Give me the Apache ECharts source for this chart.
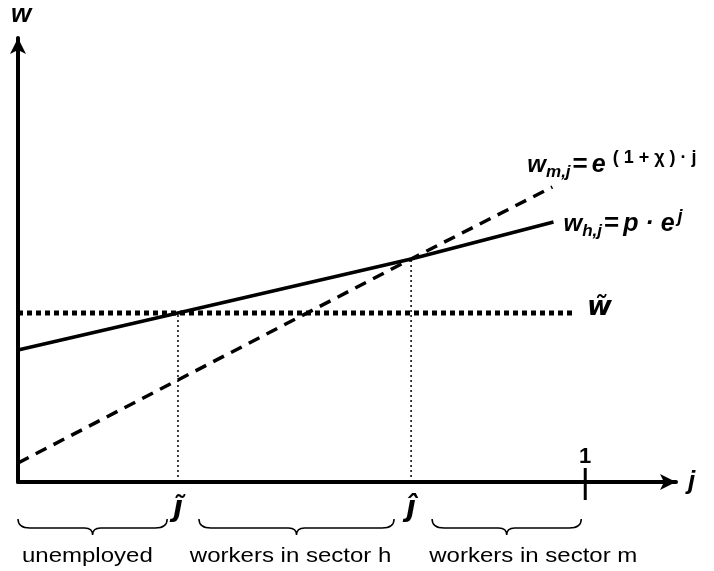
<!DOCTYPE html>
<html>
<head>
<meta charset="utf-8">
<script src="https://cdn.jsdelivr.net/npm/echarts@6/dist/echarts.min.js"></script>
<style>
html, body { margin: 0; padding: 0; background: #fff; }
#chart { width: 714px; height: 571px; }
</style>
</head>
<body>
<div id="chart"></div>
<script>
// j runs 0..1 (plus room for the arrow), w in arbitrary units
const jMax = 1.16;
const wMax = 444;
const jTilde = 0.282;
const jHat = 0.693;
const wTilde = 169;

// w_h,j = p·e^j  (solid)
const sectorH = [[0, 132], [jTilde, 169], [jHat, 223], [0.944, 260]];
// w_m,j = e^((1+χ)·j)  (dashed)
const sectorM = [[0, 19], [jTilde, 102], [jHat, 223], [0.942, 295]];
// reservation wage w~
const reservation = [[0, wTilde], [0.982, wTilde]];
// drop lines to the axis
const dropTilde = [[jTilde, 0], [jTilde, wTilde]];
const dropHat = [[jHat, 0], [jHat, 223]];
// tick mark at j = 1
const oneTick = [[1, -18], [1, 14]];
// braces under the axis and their captions
const braceFrom = [0, 0.319, 0.730];
const braceTo = [0.263, 0.663, 0.993];
const captionAt = [0.007, 0.303, 0.725];
const braceText = ['unemployed', 'workers in sector h', 'workers in sector m'];

const font = 'Liberation Sans, Arial, DejaVu Sans, sans-serif';
const ital = { fontFamily: font, fontStyle: 'italic', fontWeight: 'bold', color: '#000' };

let chart = echarts.init(document.getElementById('chart'));

function axisBase(name) {
    return {
        type: 'value',
        name: name,
        nameLocation: 'end',
        nameTextStyle: Object.assign({}, ital, { fontSize: 26 }),
        axisLine: {
            show: true,
            symbol: ['none', 'arrow'],
            symbolSize: [12, 16],
            lineStyle: { color: '#000', width: 4 }
        },
        axisTick: { show: false },
        splitLine: { show: false },
        axisLabel: { show: false }
    };
}

let xAxis = axisBase('j');
xAxis.min = 0;
xAxis.max = jMax;
xAxis.nameGap = 12;
xAxis.axisLabel = {
    show: true,
    customValues: [jTilde, jHat],
    margin: 13,
    formatter: function (v) {
        return v === jTilde ? '{t|\u0237\u0303}' : '{t|\u0135}';
    },
    rich: { t: Object.assign({}, ital, { fontSize: 28, fontFamily: 'DejaVu Sans' }) }
};

let yAxis = axisBase('w');
yAxis.min = 0;
yAxis.max = wMax;
yAxis.nameGap = 10;
yAxis.nameTextStyle.padding = [0, 0, 0, 6];

const braceData = braceFrom.map((f, i) => [f, braceTo[i], captionAt[i], i]);

const eqRich = {
    w: Object.assign({}, ital, { fontSize: 24, lineHeight: 32 }),
    sub: Object.assign({}, ital, { fontSize: 17, lineHeight: 20, verticalAlign: 'bottom' }),
    eq: Object.assign({}, ital, { fontStyle: 'normal', fontSize: 26, lineHeight: 32, padding: [0, 4, 0, 2] }),
    e: Object.assign({}, ital, { fontSize: 25, lineHeight: 32 }),
    sup: Object.assign({}, ital, { fontStyle: 'normal', fontSize: 18, lineHeight: 24, verticalAlign: 'top', padding: [0, 0, 0, 7] }),
    supj: Object.assign({}, ital, { fontSize: 18, lineHeight: 13, verticalAlign: 'top', padding: [0, 0, 0, 3] })
};

let option = {
    animation: false,
    backgroundColor: '#fff',
    grid: { left: 18, right: 38, top: 38, bottom: 89 },
    xAxis: xAxis,
    yAxis: yAxis,
    series: [
        {
            type: 'line',
            data: dropTilde,
            symbol: 'none',
            lineStyle: { color: '#000', width: 1.5, type: [2, 3] },
            z: 1
        },
        {
            type: 'line',
            data: dropHat,
            symbol: 'none',
            lineStyle: { color: '#000', width: 1.5, type: [2, 3] },
            z: 1
        },
        {
            type: 'line',
            data: reservation,
            symbol: 'none',
            lineStyle: { color: '#000', width: 5, type: [5, 4] },
            endLabel: {
                show: true,
                distance: 0,
                offset: [12, -5],
                formatter: '{w|w\u0303}',
                rich: { w: Object.assign({}, ital, { fontSize: 27, fontFamily: 'DejaVu Sans' }) }
            }
        },
        {
            type: 'line',
            data: sectorM,
            symbol: 'none',
            lineStyle: { color: '#000', width: 3.5, type: [12, 8] },
            endLabel: {
                show: true,
                distance: 0,
                offset: [-25, -22],
                formatter: '{w|w}{sub|m,j}{eq|=}{e|e}{sup|( 1 + χ ) · j}',
                rich: eqRich
            }
        },
        {
            type: 'line',
            data: sectorH,
            symbol: 'none',
            lineStyle: { color: '#000', width: 3.5 },
            endLabel: {
                show: true,
                distance: 0,
                offset: [10, 2],
                formatter: '{w|w}{sub|h,j}{eq|=}{e|p · e}{supj|j}',
                rich: eqRich
            }
        },
        {
            type: 'line',
            data: [oneTick[0], {
                value: oneTick[1],
                label: {
                    show: true,
                    position: 'top',
                    distance: 0,
                    formatter: '1',
                    fontFamily: font,
                    fontWeight: 'bold',
                    fontSize: 22,
                    color: '#000'
                }
            }],
            symbol: 'circle',
            symbolSize: 0,
            showSymbol: true,
            clip: false,
            lineStyle: { color: '#000', width: 3 }
        },
        {
            type: 'custom',
            data: braceData,
            clip: false,
            encode: { x: [0, 1] },
            renderItem: function (params, api) {
                let a = api.coord([api.value(0), 0]);
                let b = api.coord([api.value(1), 0]);
                let c = api.coord([api.value(2), 0]);
                let x0 = a[0], x1 = b[0], xm = (x0 + x1) / 2;
                let y = a[1] + 37;
                let path = 'M' + x0 + ' ' + y +
                    ' Q' + x0 + ' ' + (y + 9) + ' ' + (x0 + 12) + ' ' + (y + 9) +
                    ' L' + (xm - 8) + ' ' + (y + 9) +
                    ' Q' + xm + ' ' + (y + 9) + ' ' + xm + ' ' + (y + 16) +
                    ' Q' + xm + ' ' + (y + 9) + ' ' + (xm + 8) + ' ' + (y + 9) +
                    ' L' + (x1 - 12) + ' ' + (y + 9) +
                    ' Q' + x1 + ' ' + (y + 9) + ' ' + x1 + ' ' + y;
                return {
                    type: 'group',
                    children: [
                        {
                            type: 'path',
                            shape: { pathData: path },
                            style: { fill: 'none', stroke: '#000', lineWidth: 1.5 }
                        },
                        {
                            type: 'text',
                            x: c[0],
                            y: y + 37,
                            scaleX: 1.2,
                            style: {
                                text: braceText[api.value(3)],
                                x: 0,
                                y: 0,
                                align: 'left',
                                verticalAlign: 'middle',
                                fontFamily: font,
                                fontSize: 20,
                                fill: '#000'
                            }
                        }
                    ]
                };
            }
        }
    ]
};

chart.setOption(option);
</script>
</body>
</html>
